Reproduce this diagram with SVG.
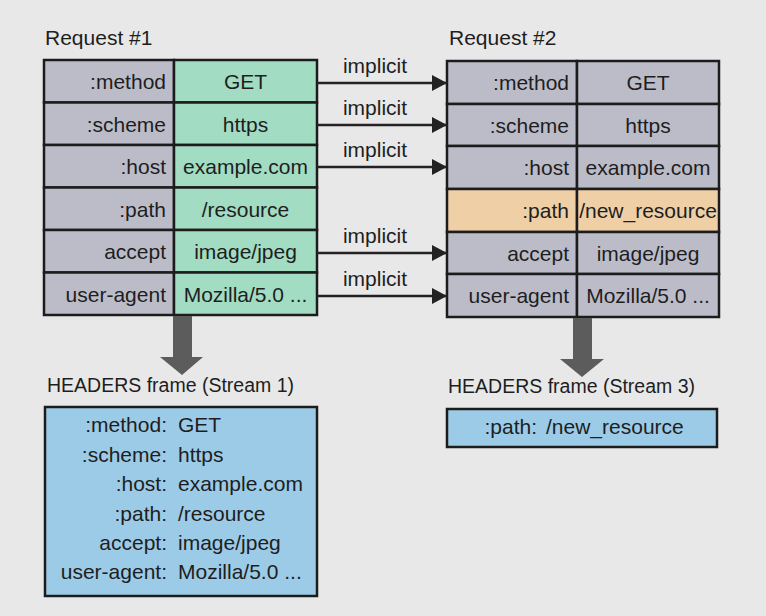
<svg xmlns="http://www.w3.org/2000/svg" width="766" height="616" viewBox="0 0 766 616">
<defs>
<style>
text{font-family:"Liberation Sans",Arial,sans-serif;font-size:21px;fill:#1e1e1e}
.k{text-anchor:end}
.v{text-anchor:middle}
.cell{stroke:#1c1c1c;stroke-width:2.5}
.gray{fill:#bcbcc9}
.green{fill:#a2dcc2}
.peach{fill:#efcfa6}
.blue{fill:#9ccbe7;stroke:#1c1c1c;stroke-width:2.5}
.imp{stroke:#222;stroke-width:2.5;fill:none}
.big{fill:#5c5c5c}
.cap{font-size:19.5px}
</style>
<marker id="ah" markerUnits="userSpaceOnUse" markerWidth="16" markerHeight="18" refX="15" refY="8" orient="auto">
<path d="M0,0 L15,8 L0,16 Z" fill="#222"/>
</marker>
</defs>
<rect x="0" y="0" width="766" height="616" fill="#e8e8e8"/>

<g id="title1"><text x="45" y="45">Request #1</text></g>
<g id="title2"><text x="449" y="45">Request #2</text></g>

<g id="request1">
<rect class="cell gray" x="44" y="60" width="130" height="42.5"/>
<rect class="cell green" x="174" y="60" width="143" height="42.5"/>
<rect class="cell gray" x="44" y="102.5" width="130" height="42.5"/>
<rect class="cell green" x="174" y="102.5" width="143" height="42.5"/>
<rect class="cell gray" x="44" y="145" width="130" height="42.5"/>
<rect class="cell green" x="174" y="145" width="143" height="42.5"/>
<rect class="cell gray" x="44" y="187.5" width="130" height="42.5"/>
<rect class="cell green" x="174" y="187.5" width="143" height="42.5"/>
<rect class="cell gray" x="44" y="230" width="130" height="42.5"/>
<rect class="cell green" x="174" y="230" width="143" height="42.5"/>
<rect class="cell gray" x="44" y="272.5" width="130" height="42.5"/>
<rect class="cell green" x="174" y="272.5" width="143" height="42.5"/>
<text class="k" x="166" y="89">:method</text><text class="v" x="245.5" y="89">GET</text>
<text class="k" x="166" y="131.5">:scheme</text><text class="v" x="245.5" y="131.5">https</text>
<text class="k" x="166" y="174">:host</text><text class="v" x="245.5" y="174">example.com</text>
<text class="k" x="166" y="216.5">:path</text><text class="v" x="245.5" y="216.5">/resource</text>
<text class="k" x="166" y="259">accept</text><text class="v" x="245.5" y="259">image/jpeg</text>
<text class="k" x="166" y="301.5">user-agent</text><text class="v" x="245.5" y="301.5">Mozilla/5.0 ...</text>
</g>

<g id="request2">
<rect class="cell gray" x="447" y="61" width="130" height="43"/>
<rect class="cell gray" x="577" y="61" width="142" height="43"/>
<rect class="cell gray" x="447" y="104" width="130" height="42"/>
<rect class="cell gray" x="577" y="104" width="142" height="42"/>
<rect class="cell gray" x="447" y="146" width="130" height="43"/>
<rect class="cell gray" x="577" y="146" width="142" height="43"/>
<rect class="cell peach" x="447" y="189" width="130" height="43"/>
<rect class="cell peach" x="577" y="189" width="142" height="43"/>
<rect class="cell gray" x="447" y="232" width="130" height="42"/>
<rect class="cell gray" x="577" y="232" width="142" height="42"/>
<rect class="cell gray" x="447" y="274" width="130" height="43"/>
<rect class="cell gray" x="577" y="274" width="142" height="43"/>
<text class="k" x="569" y="90">:method</text><text class="v" x="648" y="90">GET</text>
<text class="k" x="569" y="132.5">:scheme</text><text class="v" x="648" y="132.5">https</text>
<text class="k" x="569" y="175">:host</text><text class="v" x="648" y="175">example.com</text>
<text class="k" x="569" y="218">:path</text><text class="v" x="648" y="218">/new_resource</text>
<text class="k" x="569" y="260.5">accept</text><text class="v" x="648" y="260.5">image/jpeg</text>
<text class="k" x="569" y="303">user-agent</text><text class="v" x="648" y="303">Mozilla/5.0 ...</text>
</g>

<g id="connectors">
<line class="imp" x1="317" y1="83" x2="447" y2="83" marker-end="url(#ah)"/>
<line class="imp" x1="317" y1="125" x2="447" y2="125" marker-end="url(#ah)"/>
<line class="imp" x1="317" y1="167" x2="447" y2="167" marker-end="url(#ah)"/>
<line class="imp" x1="317" y1="253" x2="447" y2="253" marker-end="url(#ah)"/>
<line class="imp" x1="317" y1="296" x2="447" y2="296" marker-end="url(#ah)"/>
<text class="v" x="375" y="73">implicit</text>
<text class="v" x="375" y="115">implicit</text>
<text class="v" x="375" y="157">implicit</text>
<text class="v" x="375" y="243">implicit</text>
<text class="v" x="375" y="286">implicit</text>
<path class="big" d="M173,316 L192,316 L192,357 L203,357 L182,375 L160,357 L173,357 Z"/>
<path class="big" d="M573,318 L592,318 L592,359 L604,359 L582,377 L560,359 L573,359 Z"/>
</g>

<g id="frame1">
<text class="cap" x="47" y="392">HEADERS frame (Stream 1)</text>
<rect class="blue" x="45" y="407" width="272" height="189"/>
<text class="k" x="167" y="432">:method:</text><text x="178" y="432">GET</text>
<text class="k" x="167" y="461.5">:scheme:</text><text x="178" y="461.5">https</text>
<text class="k" x="167" y="491">:host:</text><text x="178" y="491">example.com</text>
<text class="k" x="167" y="520.5">:path:</text><text x="178" y="520.5">/resource</text>
<text class="k" x="167" y="550">accept:</text><text x="178" y="550">image/jpeg</text>
<text class="k" x="167" y="579">user-agent:</text><text x="178" y="579">Mozilla/5.0 ...</text>
</g>

<g id="frame2">
<text class="cap" x="448" y="393">HEADERS frame (Stream 3)</text>
<rect class="blue" x="447" y="409" width="270" height="38"/>
<text class="k" x="537" y="434">:path:</text><text x="546" y="434">/new_resource</text>
</g>
</svg>
